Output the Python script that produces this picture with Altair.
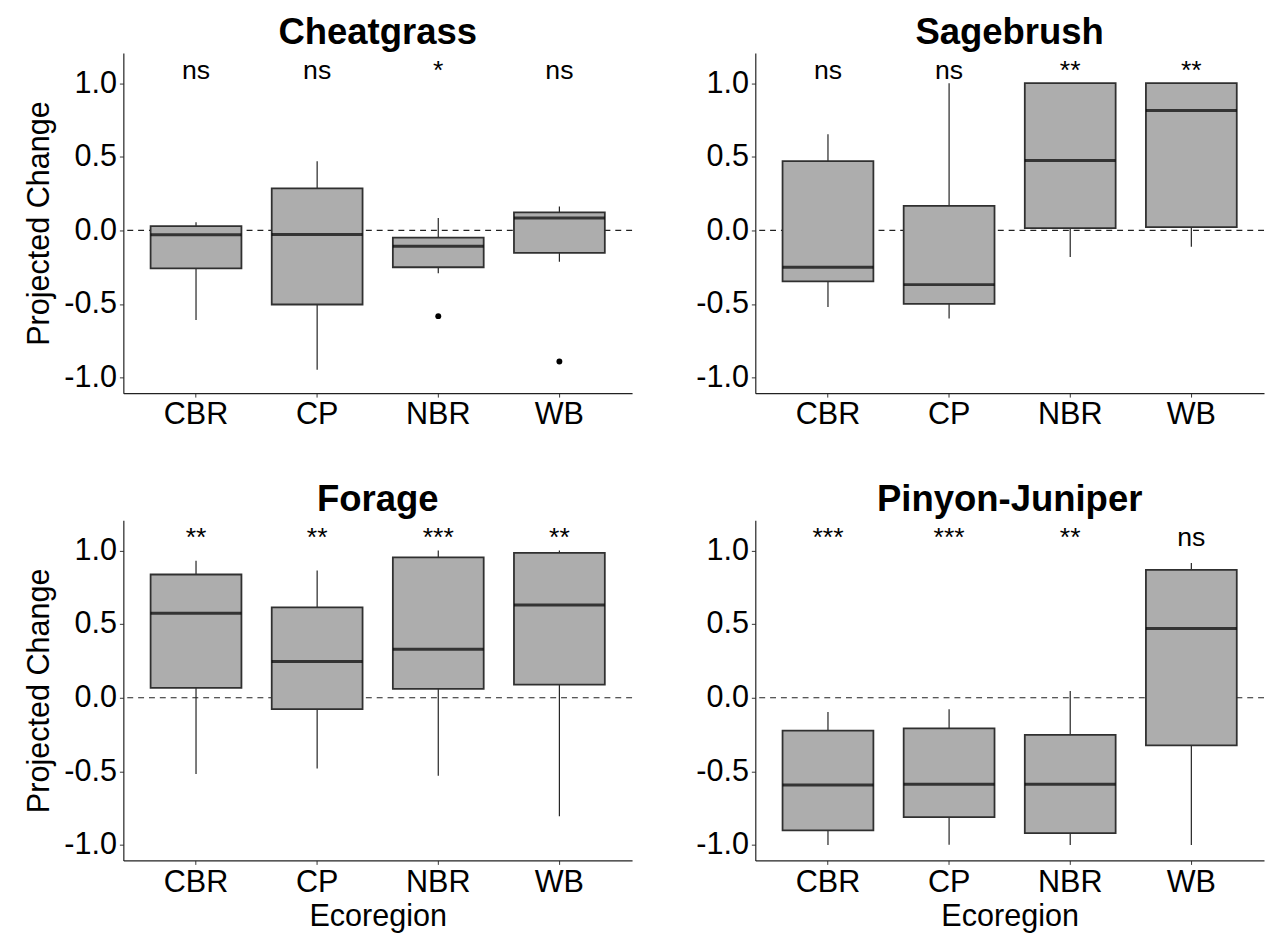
import altair as alt
import pandas as pd

ECOREGIONS = ["CBR", "CP", "NBR", "WB"]

# Cheatgrass
CHEAT_LO = [-0.608, -0.946, -0.290, -0.213]
CHEAT_Q1 = [-0.257, -0.503, -0.250, -0.152]
CHEAT_MED = [-0.029, -0.027, -0.107, 0.085]
CHEAT_Q3 = [0.029, 0.286, -0.049, 0.123]
CHEAT_HI = [0.056, 0.470, 0.085, 0.163]
CHEAT_SIG = ["ns", "ns", "*", "ns"]
CHEAT_OUT_ECO = ["NBR", "WB"]
CHEAT_OUT_VAL = [-0.582, -0.890]

# Sagebrush
SAGE_LO = [-0.520, -0.598, -0.180, -0.110]
SAGE_Q1 = [-0.346, -0.498, 0.016, 0.022]
SAGE_MED = [-0.250, -0.368, 0.475, 0.815]
SAGE_Q3 = [0.471, 0.167, 1.000, 1.000]
SAGE_HI = [0.654, 1.000, 1.000, 1.000]
SAGE_SIG = ["ns", "ns", "**", "**"]

# Forage
FORAGE_LO = [-0.518, -0.480, -0.529, -0.804]
FORAGE_Q1 = [0.067, -0.078, 0.060, 0.089]
FORAGE_MED = [0.574, 0.246, 0.330, 0.630]
FORAGE_Q3 = [0.837, 0.614, 0.953, 0.984]
FORAGE_HI = [0.931, 0.864, 1.000, 1.000]
FORAGE_SIG = ["**", "**", "***", "**"]

# Pinyon-Juniper
PJ_LO = [-1.000, -0.998, -1.000, -1.000]
PJ_Q1 = [-0.900, -0.810, -0.920, -0.324]
PJ_MED = [-0.592, -0.587, -0.587, 0.471]
PJ_Q3 = [-0.223, -0.208, -0.252, 0.868]
PJ_HI = [-0.096, -0.078, 0.045, 0.915]
PJ_SIG = ["***", "***", "**", "ns"]

Y_TICKS = [-1.0, -0.5, 0.0, 0.5, 1.0]
Y_DOMAIN = [-1.105, 1.205]
LABEL_Y = 1.03
REF_Y = [0.0]

FONT = "Liberation Sans"
W, H = 516, 345
PAD_INNER, PAD_OUTER = 0.25, 0.225
STEP = W / (len(ECOREGIONS) - PAD_INNER + 2 * PAD_OUTER)
BAND = STEP * (1 - PAD_INNER)

FILL = "#adadad"
EDGE = "#303030"


def panel(title, lo, q1, med, q3, hi, sig, out_eco=None, out_val=None,
          left=True, bottom=True):
    df = pd.DataFrame({"eco": ECOREGIONS, "lo": lo, "q1": q1, "med": med,
                       "q3": q3, "hi": hi, "sig": sig,
                       "sig_y": [LABEL_Y] * len(ECOREGIONS)})
    xscale = alt.Scale(domain=ECOREGIONS, paddingInner=PAD_INNER,
                       paddingOuter=PAD_OUTER)
    yscale = alt.Scale(domain=Y_DOMAIN, nice=False, zero=False)
    xaxis = alt.Axis(title="Ecoregion" if bottom else None, labelAngle=0)
    yaxis = alt.Axis(title="Projected Change" if left else None,
                     values=Y_TICKS,
                     labelExpr="replace(format(datum.value, '.1f'), '\u2212', '-')")

    def X():
        return alt.X("eco:N", scale=xscale, axis=xaxis, sort=ECOREGIONS)

    def Y(field):
        return alt.Y(f"{field}:Q", scale=yscale, axis=yaxis)

    ref = alt.Chart(pd.DataFrame({"ref": REF_Y})).mark_rule(
        color="#222222", strokeDash=[6, 5], strokeWidth=1.2
    ).encode(y=Y("ref"))

    base = alt.Chart(df)
    whisk = base.mark_rule(color="#222222", strokeWidth=1.2).encode(
        x=X(), y=Y("lo"), y2="hi:Q")
    box = base.mark_bar(fill=FILL, stroke=EDGE, strokeWidth=1.8).encode(
        x=X(), y=Y("q1"), y2="q3:Q")
    median = base.mark_tick(color="#000000", thickness=3, size=BAND,
                            orient="horizontal").encode(x=X(), y=Y("med"))
    text = base.mark_text(font=FONT, fontSize=27, baseline="alphabetic",
                          color="#000000").encode(x=X(), y=Y("sig_y"),
                                                  text="sig:N")
    layers = [ref, whisk, box, median]
    if out_eco:
        odf = pd.DataFrame({"eco": out_eco, "val": out_val})
        pts = alt.Chart(odf).mark_circle(color="#000000", size=36,
                                         opacity=1).encode(x=X(), y=Y("val"))
        layers.append(pts)
    layers.append(text)
    return alt.layer(*layers).properties(
        width=W, height=H,
        title=alt.TitleParams(title, font=FONT, fontSize=37,
                              fontWeight="bold", color="#000000",
                              anchor="middle", offset=1))


p1 = panel("Cheatgrass", CHEAT_LO, CHEAT_Q1, CHEAT_MED, CHEAT_Q3, CHEAT_HI,
           CHEAT_SIG, CHEAT_OUT_ECO, CHEAT_OUT_VAL, left=True, bottom=False)
p2 = panel("Sagebrush", SAGE_LO, SAGE_Q1, SAGE_MED, SAGE_Q3, SAGE_HI,
           SAGE_SIG, left=False, bottom=False)
p3 = panel("Forage", FORAGE_LO, FORAGE_Q1, FORAGE_MED, FORAGE_Q3, FORAGE_HI,
           FORAGE_SIG, left=True, bottom=True)
p4 = panel("Pinyon-Juniper", PJ_LO, PJ_Q1, PJ_MED, PJ_Q3, PJ_HI,
           PJ_SIG, left=False, bottom=True)

top = alt.hconcat(p1, p2, spacing=63)
bot = alt.hconcat(p3, p4, spacing=63)
chart = alt.vconcat(top, bot, spacing=53).properties(
    padding={"left": 15, "top": 0, "right": 0, "bottom": 0}
).configure_view(stroke=None).configure_axis(
    grid=False, domainColor="#222222", domainWidth=1.2,
    tickColor="#333333", tickSize=4, tickWidth=1,
    labelFont=FONT, labelFontSize=31, labelColor="#000000", labelPadding=3,
    titleFont=FONT, titleFontSize=31, titleFontWeight="normal",
    titleColor="#000000"
).configure_axisY(titlePadding=9).configure_axisX(titlePadding=5)

chart.save("out.html", embed_options={"renderer": "svg", "actions": False})
